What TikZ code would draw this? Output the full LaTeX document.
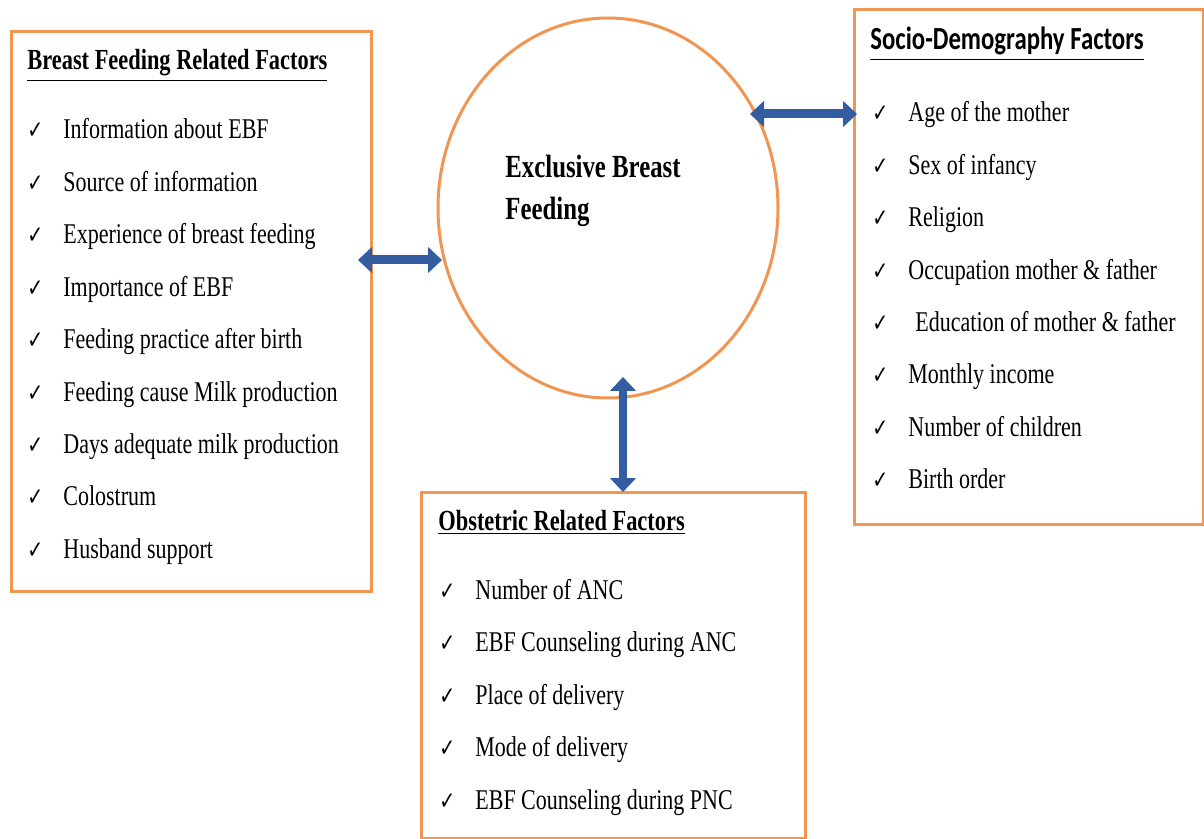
\documentclass[tikz,border=0pt]{standalone}
\usepackage{graphicx}
\usepackage{fontspec}
\setmainfont{Liberation Serif}
\newfontfamily\chkfont{DejaVu Sans}
\newfontfamily\carlitofont{Carlito}
\usetikzlibrary{arrows.meta}
\definecolor{boxorange}{RGB}{240,150,82}
\definecolor{arrowblue}{RGB}{52,92,160}
\newcommand{\vs}[1]{\scalebox{1}[1.3]{#1}}
\newcommand{\ck}[1]{\vs{\makebox[18pt][l]{\chkfont\fontsize{9.5}{10}\selectfont ✓}#1}}
\begin{document}
\begin{tikzpicture}[x=0.5pt,y=-0.5pt,
  box/.style={draw=boxorange, line width=1.5pt, anchor=north west, inner sep=0pt},
  itm/.style={anchor=base west, inner sep=0pt, font=\fontsize{11}{13}\selectfont},
  ttl/.style={anchor=base west, inner sep=0pt, font=\fontsize{11.2}{13}\selectfont\bfseries},
  dbl/.style={draw=arrowblue, line width=4.5pt,
    {Triangle[length=7pt,width=13pt,line width=0.4pt]}-{Triangle[length=7pt,width=13pt,line width=0.4pt]}}
]
\useasboundingbox (0,0) rectangle (1204,839);
\fill[white] (0,0) rectangle (1204,839);

% boxes
\node[box, minimum width=180pt, minimum height=280pt] (lbox) at (10,30) {};
\node[box, minimum width=174.5pt, minimum height=257.5pt] (rbox) at (853,8) {};
\node[box, minimum width=192pt, minimum height=173pt] (bbox) at (420,491) {};
\draw[draw=boxorange, line width=1.5pt] (608,208) ellipse (170 and 190);
\node[minimum width=170pt, minimum height=190pt, inner sep=0pt] (ell) at (608,208) {};

% ellipse text
\node[ttl, font=\fontsize{12.4}{14}\selectfont\bfseries] (e1) at (505,178) {\vs{Exclusive Breast}};
\node[ttl, font=\fontsize{12.4}{14}\selectfont\bfseries] (e2) at (505,220) {\vs{Feeding}};

% left box
\node[ttl] (lt) at (27,70) {\vs{\underline{Breast Feeding Related Factors}}};
\node[itm] (l1) at (27,139) {\ck{Information about EBF}};
\node[itm] (l2) at (27,191.4) {\ck{Source of information}};
\node[itm] (l3) at (27,243.8) {\ck{Experience of breast feeding}};
\node[itm] (l4) at (27,296.2) {\ck{Importance of EBF}};
\node[itm] (l5) at (27,348.6) {\ck{Feeding practice after birth}};
\node[itm] (l6) at (27,401) {\ck{Feeding cause Milk production}};
\node[itm] (l7) at (27,453.4) {\ck{Days adequate milk production}};
\node[itm] (l8) at (27,505.8) {\ck{Colostrum}};
\node[itm] (l9) at (27,558.2) {\ck{Husband support}};

% right box
\node[ttl, font=\fontsize{12.4}{14}\selectfont\carlitofont\bfseries] (rt) at (870,50) {\vs{\underline{Socio-Demography Factors}}};
\node[itm] (r1) at (872,122) {\ck{Age of the mother}};
\node[itm] (r2) at (872,174.4) {\ck{Sex of infancy}};
\node[itm] (r3) at (872,226.8) {\ck{Religion}};
\node[itm] (r4) at (872,279.2) {\ck{Occupation mother \& father}};
\node[itm] (r5) at (872,331.6) {\ck{\hspace{3.5pt}Education of mother \& father}};
\node[itm] (r6) at (872,384) {\ck{Monthly income}};
\node[itm] (r7) at (872,436.4) {\ck{Number of children}};
\node[itm] (r8) at (872,488.8) {\ck{Birth order}};

% bottom box
\node[ttl] (bt) at (438,530) {\vs{\underline{Obstetric Related Factors}}};
\node[itm] (b1) at (439,599) {\ck{Number of ANC}};
\node[itm] (b2) at (439,651.5) {\ck{EBF Counseling during ANC}};
\node[itm] (b3) at (439,704) {\ck{Place of delivery}};
\node[itm] (b4) at (439,756.5) {\ck{Mode of delivery}};
\node[itm] (b5) at (439,809) {\ck{EBF Counseling during PNC}};

% arrows
\coordinate (la) at (358,260);
\coordinate (lb) at (442,260);
\coordinate (ra) at (750,114);
\coordinate (rb) at (857,114);
\coordinate (va) at (623,377);
\coordinate (vb) at (623,492);
\draw[dbl] (la) -- (lb);
\draw[dbl] (ra) -- (rb);
\draw[dbl, line width=4pt] (va) -- (vb);
\end{tikzpicture}
\end{document}
